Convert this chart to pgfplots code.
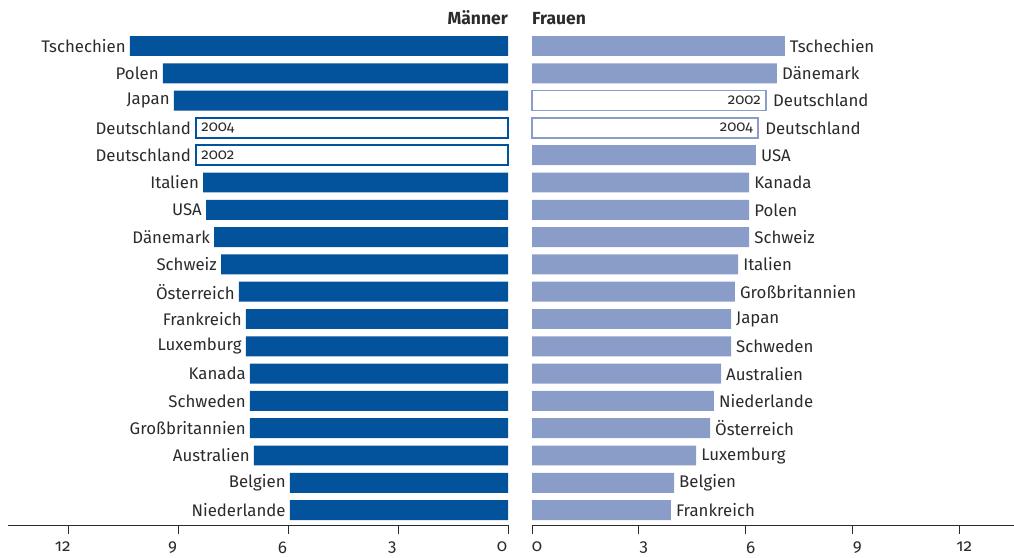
\documentclass[border=0pt]{standalone}
\usepackage{fontspec}
\setmainfont{Fira Sans}[Numbers=OldStyle]
\usepackage{pgfplots}
\usepackage{pgfplotstable}
\pgfplotsset{compat=1.18}
\definecolor{mblue}{HTML}{03529C}
\definecolor{fblue}{HTML}{8A9DC9}
\definecolor{txt}{HTML}{2B2B2B}

% Maenner (left), rows counted from the top
\pgfplotstableread{
i v name
0 10.33 Tschechien
1 9.43 Polen
2 9.13 Japan
5 8.33 Italien
6 8.25 USA
7 8.03 Dänemark
8 7.84 Schweiz
9 7.35 Österreich
10 7.16 Frankreich
11 7.16 Luxemburg
12 7.05 Kanada
13 7.05 Schweden
14 7.05 Großbritannien
15 6.94 Australien
16 5.96 Belgien
17 5.96 Niederlande
}\men
\pgfplotstableread{
i v name yr
3 8.52 Deutschland 2004
4 8.52 Deutschland 2002
}\menDE

% Frauen (right)
\pgfplotstableread{
i v name
0 7.10 Tschechien
1 6.88 Dänemark
4 6.29 USA
5 6.10 Kanada
6 6.10 Polen
7 6.10 Schweiz
8 5.79 Italien
9 5.70 Großbritannien
10 5.59 Japan
11 5.59 Schweden
12 5.31 Australien
13 5.11 Niederlande
14 5.00 Österreich
15 4.61 Luxemburg
16 3.99 Belgien
17 3.90 Frankreich
}\women
\pgfplotstableread{
i v name yr
2 6.57 Deutschland 2002
3 6.35 Deutschland 2004
}\womenDE

\tikzset{yr/.style={font=\fontsize{15}{17}\selectfont}}
\pgfplotsset{
  half/.style={
    scale only axis, height=493pt,
    ymin=-0.513, ymax=17.546, y dir=reverse,
    xmin=0,
    axis x line*=bottom, axis y line=none,
    ytick=\empty,
    xtick={0,3,6,9,12}, xticklabels={0,3,6,9,12},
    tick align=outside, major tick length=9pt,
    x axis line style={color=txt, line width=0.9pt},
    xtick style={color=txt, line width=0.7pt},
    xticklabel style={color=txt, yshift=-2pt, font=\fontsize{17}{19}\selectfont},
    clip=false,
    xbar, bar width=0.73, bar shift=0pt,
  },
  lab/.style={only marks, mark=none, nodes near coords, point meta=explicit symbolic,
    every node near coord/.append style={color=txt, inner sep=0pt}},
}

\begin{document}
\fontsize{16.8}{19}\selectfont
\begin{tikzpicture}
\useasboundingbox (0pt,0pt) rectangle (1014pt,-557pt);

\begin{axis}[half, at={(8pt,-525pt)}, anchor=south west,
  width=500pt, xmax=13.66, x dir=reverse,
  xticklabel style={xshift=-6pt}]
\addplot[fill=mblue, draw=none] table[x=v, y=i] {\men};
\addplot[fill=white, draw=mblue, line width=1.6pt] table[x=v, y=i] {\menDE};
\addplot[lab, every node near coord/.append style={anchor=east, xshift=-4pt}]
  table[x=v, y=i, meta=name] {\men};
\addplot[lab, every node near coord/.append style={anchor=east, xshift=-5pt}]
  table[x=v, y=i, meta=name] {\menDE};
\addplot[lab, every node near coord/.append style={anchor=west, xshift=5pt, yr}]
  table[x=v, y=i, meta=yr] {\menDE};
\node[anchor=base east, font=\bfseries\fontsize{17.5}{20}\selectfont, color=txt, inner sep=0pt]
  at (axis cs:0,-0.8) {Männer};
\end{axis}

\begin{axis}[half, at={(532pt,-525pt)}, anchor=south west,
  width=482pt, xmax=13.54,
  xticklabel style={xshift=5pt}]
\addplot[fill=fblue, draw=none] table[x=v, y=i] {\women};
\addplot[fill=white, draw=fblue, line width=1.6pt] table[x=v, y=i] {\womenDE};
\addplot[lab, every node near coord/.append style={anchor=west, xshift=5pt}]
  table[x=v, y=i, meta=name] {\women};
\addplot[lab, every node near coord/.append style={anchor=west, xshift=7pt}]
  table[x=v, y=i, meta=name] {\womenDE};
\addplot[lab, every node near coord/.append style={anchor=east, xshift=-5pt, yr}]
  table[x=v, y=i, meta=yr] {\womenDE};
\node[anchor=base west, font=\bfseries\fontsize{17.5}{20}\selectfont, color=txt, inner sep=0pt]
  at (axis cs:0,-0.8) {Frauen};
\end{axis}
\end{tikzpicture}
\end{document}
